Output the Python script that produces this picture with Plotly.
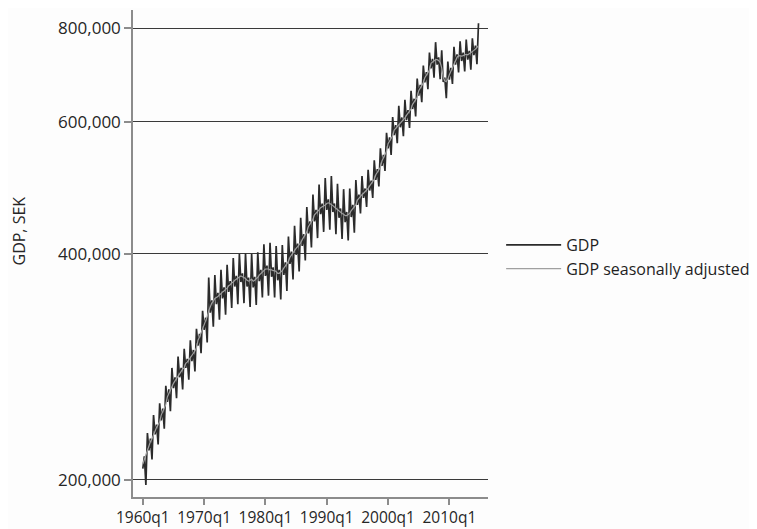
import plotly.graph_objects as go

# Quarterly values, thousands of SEK (millions in the original scale shown as 200,000 ... 800,000)
years = list(range(1960, 2015))

gdp_k = [
    207, 215, 197, 231,   # 1960
    219, 227, 213, 244,   # 1961
    230, 237, 223, 253,   # 1962
    240, 249, 234, 267,   # 1963
    254, 264, 247, 282,   # 1964
    265, 274, 257, 292,   # 1965
    274, 282, 264, 299,   # 1966
    282, 290, 272, 307,   # 1967
    288, 298, 279, 318,   # 1968
    302, 313, 295, 336,   # 1969
    317, 329, 305, 372,   # 1970
    334, 347, 320, 375,   # 1971
    343, 355, 327, 381,   # 1972
    349, 361, 332, 387,   # 1973
    356, 368, 339, 395,   # 1974
    362, 374, 343, 400,   # 1975
    367, 377, 344, 401,   # 1976
    362, 372, 340, 400,   # 1977
    361, 373, 342, 402,   # 1978
    368, 381, 350, 412,   # 1979
    374, 386, 352, 414,   # 1980
    373, 384, 350, 410,   # 1981
    369, 381, 348, 411,   # 1982
    375, 390, 357, 422,   # 1983
    388, 403, 370, 436,   # 1984
    399, 413, 379, 447,   # 1985
    410, 425, 392, 462,   # 1986
    426, 442, 408, 480,   # 1987
    442, 458, 420, 495,   # 1988
    452, 467, 428, 505,   # 1989
    458, 473, 431, 508,   # 1990
    455, 467, 425, 496,   # 1991
    447, 460, 419, 488,   # 1992
    441, 455, 417, 489,   # 1993
    448, 465, 427, 502,   # 1994
    465, 480, 453, 508,   # 1995
    475, 489, 462, 518,   # 1996
    486, 501, 475, 533,   # 1997
    502, 519, 492, 553,   # 1998
    524, 542, 516, 580,   # 1999
    553, 572, 542, 609,   # 2000
    576, 594, 562, 630,   # 2001
    590, 608, 574, 642,   # 2002
    603, 622, 589, 660,   # 2003
    624, 644, 610, 685,   # 2004
    650, 672, 637, 713,   # 2005
    677, 699, 663, 742,   # 2006
    707, 728, 687, 766,   # 2007
    715, 731, 684, 747,   # 2008
    678, 687, 645, 722,   # 2009
    683, 708, 674, 755,   # 2010
    715, 738, 698, 768,   # 2011
    723, 742, 700, 772,   # 2012
    726, 746, 704, 775,   # 2013
    736, 758, 716, 812,   # 2014
]

sa_k = [
    210, 213, 215, 218,   # 1960
    222, 225, 227, 230,   # 1961
    233, 235, 237, 239,   # 1962
    244, 247, 249, 252,   # 1963
    258, 261, 263, 266,   # 1964
    269, 271, 273, 275,   # 1965
    278, 279, 281, 282,   # 1966
    286, 287, 289, 290,   # 1967
    292, 295, 297, 300,   # 1968
    307, 310, 314, 317,   # 1969
    323, 326, 330, 336,   # 1970
    341, 344, 346, 349,   # 1971
    350, 351, 353, 354,   # 1972
    356, 357, 359, 360,   # 1973
    363, 364, 366, 367,   # 1974
    369, 370, 371, 372,   # 1975
    374, 373, 372, 371,   # 1976
    369, 368, 369, 370,   # 1977
    368, 369, 371, 372,   # 1978
    375, 377, 379, 381,   # 1979
    382, 382, 382, 381,   # 1980
    381, 380, 380, 379,   # 1981
    377, 377, 378, 380,   # 1982
    383, 386, 388, 391,   # 1983
    396, 399, 401, 404,   # 1984
    407, 409, 411, 414,   # 1985
    418, 421, 425, 428,   # 1986
    435, 438, 442, 445,   # 1987
    451, 453, 455, 458,   # 1988
    461, 462, 464, 465,   # 1989
    467, 468, 467, 466,   # 1990
    464, 462, 460, 458,   # 1991
    456, 455, 453, 452,   # 1992
    450, 450, 451, 453,   # 1993
    457, 460, 462, 465,   # 1994
    472, 475, 477, 480,   # 1995
    482, 484, 486, 489,   # 1996
    493, 496, 500, 503,   # 1997
    510, 514, 518, 522,   # 1998
    532, 537, 543, 548,   # 1999
    561, 566, 570, 575,   # 2000
    585, 588, 592, 595,   # 2001
    599, 602, 604, 607,   # 2002
    612, 616, 620, 624,   # 2003
    633, 638, 642, 647,   # 2004
    660, 665, 671, 676,   # 2005
    687, 692, 698, 703,   # 2006
    718, 721, 723, 726,   # 2007
    726, 724, 720, 708,   # 2008
    688, 680, 679, 684,   # 2009
    693, 701, 709, 716,   # 2010
    726, 731, 735, 734,   # 2011
    734, 735, 737, 738,   # 2012
    737, 739, 741, 744,   # 2013
    747, 750, 754, 758,   # 2014
]

tick_years = [1960, 1970, 1980, 1990, 2000, 2010]
tick_labels = ["1960q1", "1970q1", "1980q1", "1990q1", "2000q1", "2010q1"]
y_ticks = [200000, 400000, 600000, 800000]
y_tick_labels = ["200,000", "400,000", "600,000", "800,000"]
y_title = "GDP, SEK"

quarters = [y + q / 4 for y in years for q in range(4)]
gdp = [v * 1000 for v in gdp_k]
sa = [v * 1000 for v in sa_k]

font_family = "Open Sans, Noto Sans, sans-serif"
text_color = "#262626"

fig = go.Figure()
fig.add_trace(go.Scatter(
    x=quarters, y=gdp, mode="lines", name="GDP",
    line=dict(color="#2b2b2b", width=1.7),
))
fig.add_trace(go.Scatter(
    x=quarters, y=sa, mode="lines", name="GDP seasonally adjusted",
    line=dict(color="#a0a0a0", width=1.2),
))

# page body adds an 8px offset, so the figure is 8px smaller and margins shifted
fig.update_layout(
    width=749, height=521,
    margin=dict(l=125, r=265, t=2, b=32),
    paper_bgcolor="#fdfdfd", plot_bgcolor="#fdfdfd",
    font=dict(family=font_family, size=16, color=text_color),
    showlegend=True,
    legend=dict(
        x=1.037, y=0.493, xanchor="left", yanchor="middle",
        font=dict(family=font_family, size=16, color="#1f1f1f"),
        bgcolor="rgba(0,0,0,0)", itemwidth=55, tracegroupgap=0,
    ),
    annotations=[dict(
        text=y_title, textangle=-90, showarrow=False,
        xref="paper", yref="paper", x=-0.32, y=0.546,
        xanchor="center", yanchor="middle",
        font=dict(family=font_family, size=16, color=text_color),
    )],
)
fig.update_xaxes(
    range=[1958.4, 2016.3], automargin=False,
    tickmode="array", tickvals=tick_years, ticktext=tick_labels,
    showgrid=False, zeroline=False,
    showline=True, linecolor="#8c8c8c", linewidth=1.5,
    ticks="outside", ticklen=6, tickcolor="#8c8c8c", tickwidth=1.5,
    tickfont=dict(size=15.5, color=text_color),
)
fig.update_yaxes(
    type="log", automargin=False,
    range=[5.2783, 5.9271],
    tickmode="array", tickvals=y_ticks, ticktext=y_tick_labels,
    showgrid=True, gridcolor="#3a3a3a", gridwidth=1.3,
    zeroline=False,
    showline=True, linecolor="#8c8c8c", linewidth=1.5,
    ticks="outside", ticklen=7, tickcolor="#8c8c8c", tickwidth=1.5,
    tickfont=dict(size=17, color=text_color),
)

fig.write_html("out.html")
